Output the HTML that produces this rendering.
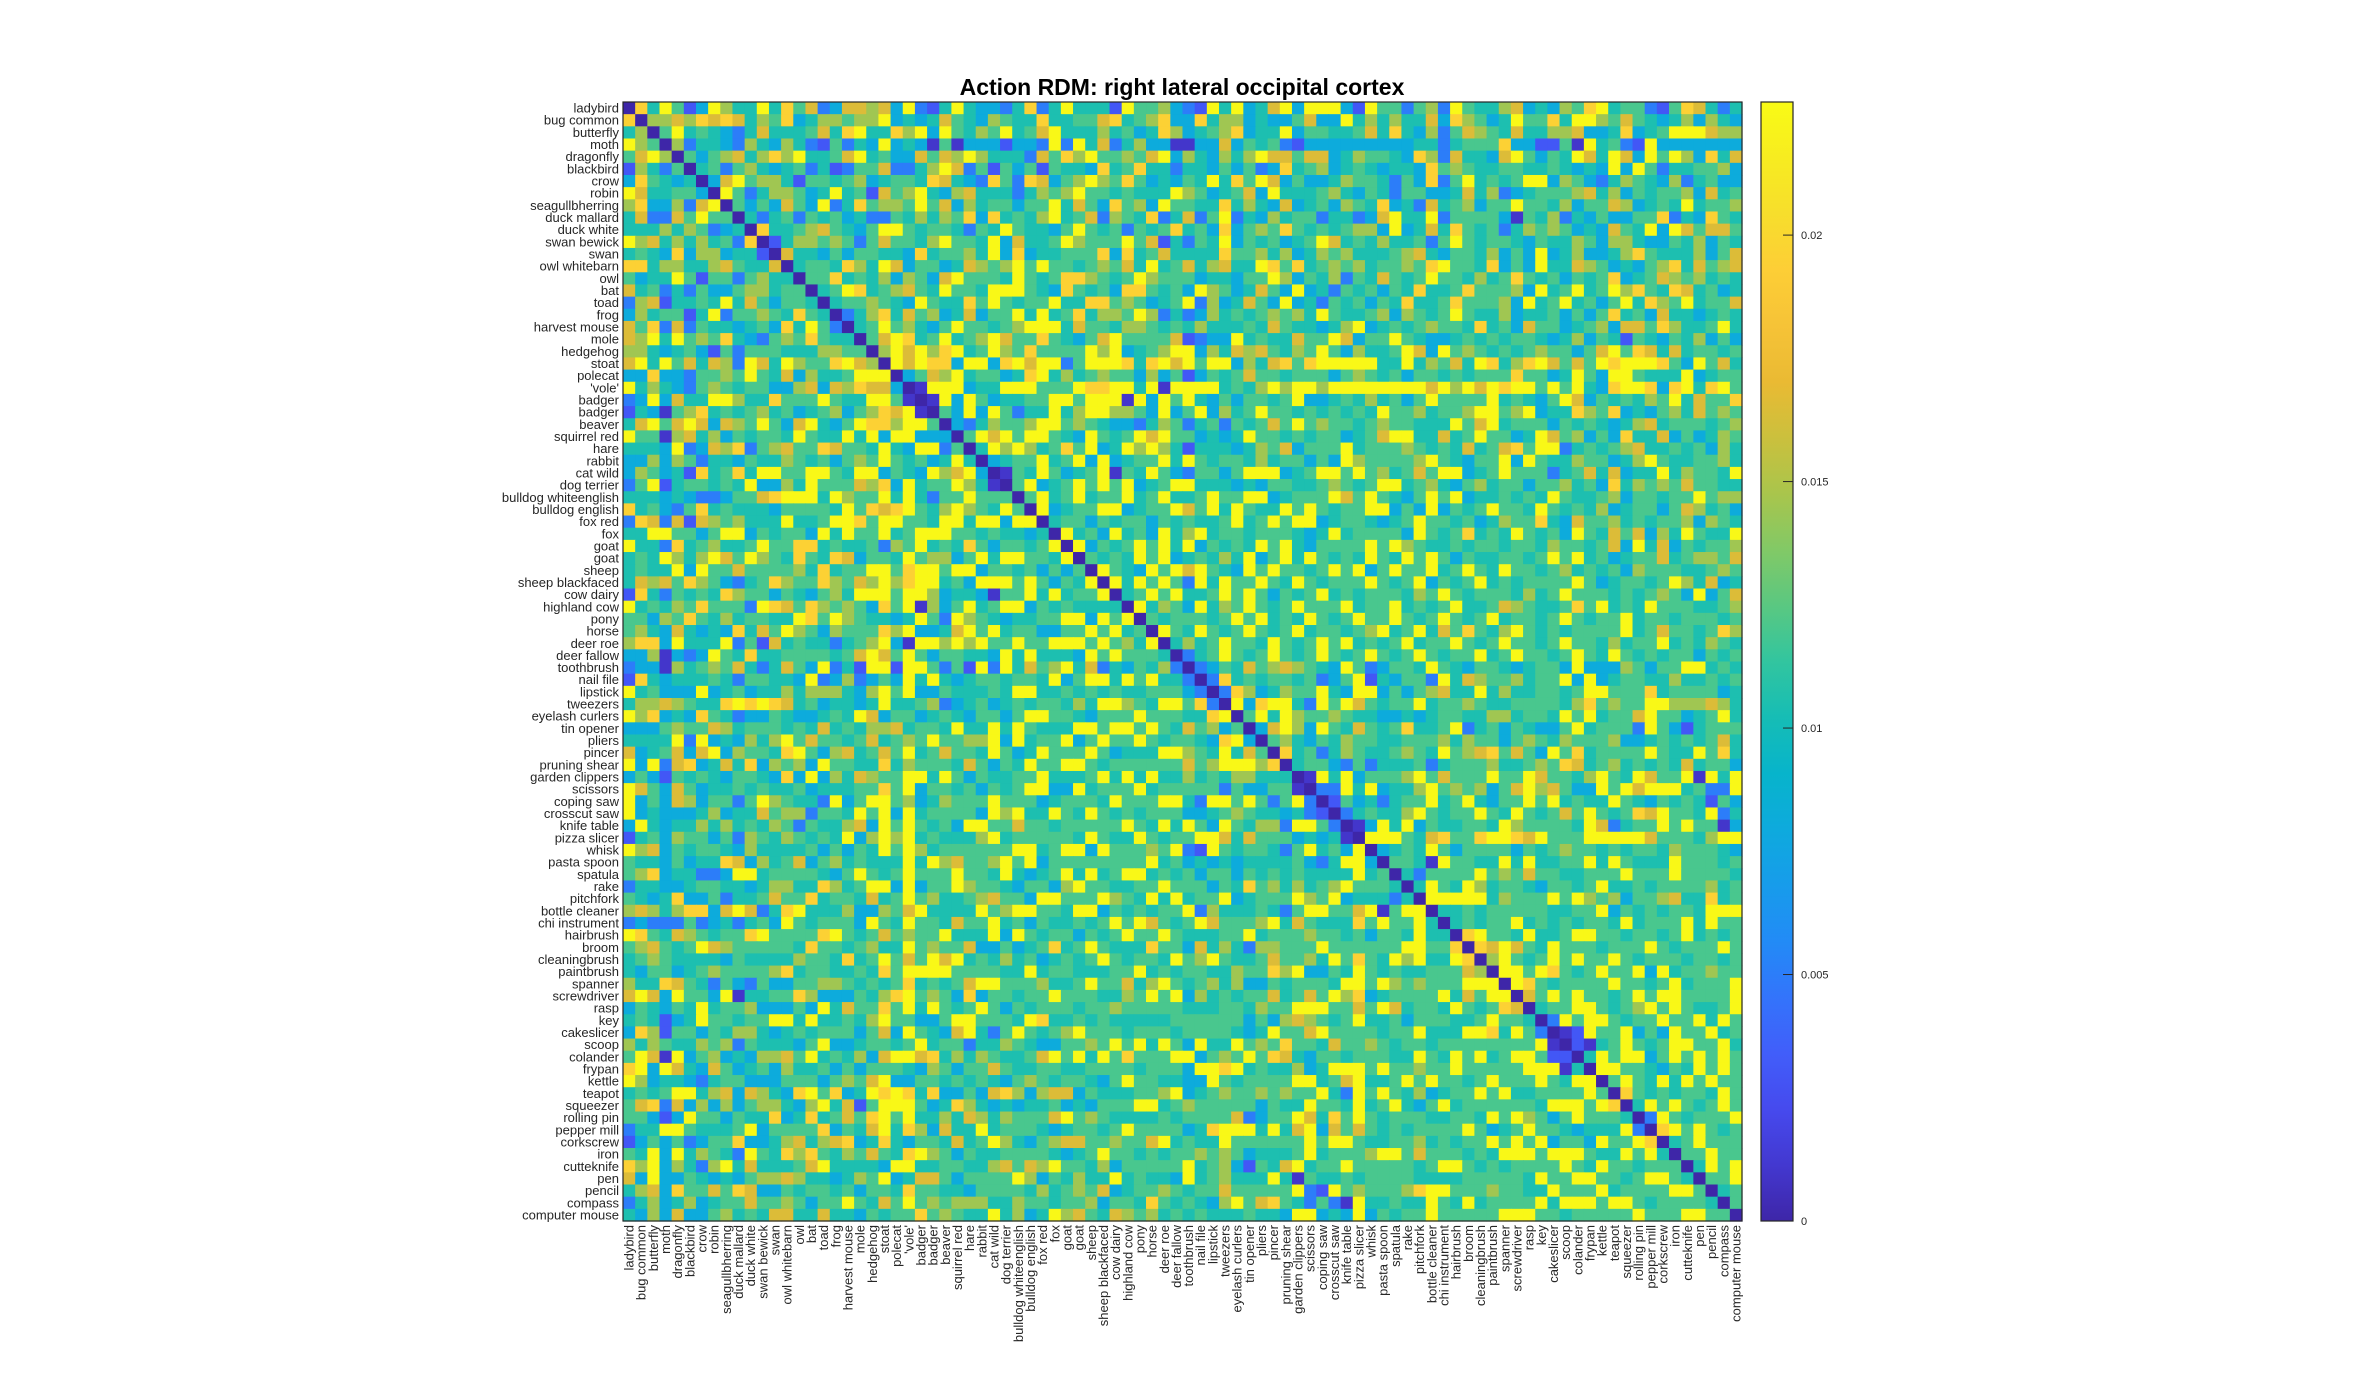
<!DOCTYPE html>
<html><head><meta charset="utf-8"><title>Action RDM</title>
<style>
html,body{margin:0;padding:0;background:#fff;}
body{width:2380px;height:1372px;overflow:hidden;font-family:"Liberation Sans",Arial,sans-serif;}
</style></head>
<body>
<svg id="chart" width="2380" height="1372" xmlns="http://www.w3.org/2000/svg">
<text x="1182" y="95" text-anchor="middle" font-family="Liberation Sans, Arial, sans-serif" font-weight="bold" font-size="23" fill="#000">Action RDM: right lateral occipital cortex</text>
<g id="cells"></g>
<g id="ylabels"></g>
<g id="xlabels"></g>
<rect x="623" y="102" width="1119" height="1119" fill="none" stroke="#262626" stroke-width="1.2"/>
<defs><linearGradient id="cbgrad" x1="0" y1="1" x2="0" y2="0"></linearGradient></defs>
<rect x="1761" y="102" width="32" height="1119" fill="url(#cbgrad)" stroke="#262626" stroke-width="1.2"/>
<g id="cbticks"></g>
</svg>
<script>
const categories = ["ladybird","bug common","butterfly","moth","dragonfly","blackbird","crow","robin","seagullbherring","duck mallard","duck white","swan bewick","swan","owl whitebarn","owl","bat","toad","frog","harvest mouse","mole","hedgehog","stoat","polecat","'vole'","badger","badger","beaver","squirrel red","hare","rabbit","cat wild","dog terrier","bulldog whiteenglish","bulldog english","fox red","fox","goat","goat","sheep","sheep blackfaced","cow dairy","highland cow","pony","horse","deer roe","deer fallow","toothbrush","nail file","lipstick","tweezers","eyelash curlers","tin opener","pliers","pincer","pruning shear","garden clippers","scissors","coping saw","crosscut saw","knife table","pizza slicer","whisk","pasta spoon","spatula","rake","pitchfork","bottle cleaner","chi instrument","hairbrush","broom","cleaningbrush","paintbrush","spanner","screwdriver","rasp","key","cakeslicer","scoop","colander","frypan","kettle","teapot","squeezer","rolling pin","pepper mill","corkscrew","iron","cutteknife","pen","pencil","compass","computer mouse"];
const levelValues = [0.001,0.003,0.005,0.008,0.0105,0.012,0.0145,0.0165,0.0195,0.0225];
const colorTicks = [0,0.005,0.01,0.015,0.02];
const colorTickLabels = ["0","0.005","0.01","0.015","0.02"];
const cmin = 0, cmax = 0.0227;
// block A: rows 0-45, columns i+1..45 (animals vs animals)
const blockA = [
"849513964494857237767392149433248249444195563",
"66768787465834665669343475436544844557845683",
"5945432474445748944869395465945794446453486",
"624432643642152439343050333133292947246330",
"53567468694457945337576964442758695565793",
"4525643452412557224697251535154438458442",
"37956641554563455487432852873569658534",
"9524665349451756943674442465695545444",
"535375392485665957364553559475385639",
"42452545342254646583845469457265482",
"8445675435995455425495443595452545",
"14665652575546955493744596555957",
"7443535544384556493834455583845",
"455486497355347656959554565749",
"55845463653795554954588654596",
"4598456754955499954385453885",
"455654395448595455944885653",
"24684756347355949458466596",
"4595643595545699947554665",
"579845945697558543579555",
"69796894596585555969345",
"9798839938979925999848",
"357694553489464565536",
"09993449995559889949",
"0939534455995999",
"5393952449469966",
"32465569956543",
"5979599543954",
"49696458593",
"3455945939",
"054953459",
"59345959",
"5945945",
"934559",
"45535",
"9453",
"935459594",
"54549593",
"9543959",
"949595",
"45959",
"9465",
"545",
"95",
"4",
""
];
// block B: rows 0-45 x columns 46-91 (animals vs objects), 46 levels per row
const blockB = [
"2194934793999319552562954467343658945521587424",
"3846634335733946464473865349558499657543463643",
"3456834493554457484362576547446673348345999766",
"0337354521333333333442455583311509452193333333",
"6436469775773465543862744379535497497395963847",
"4435352384563454344385654455445434393952445563",
"5494859735334655425382594545993653246543624533",
"6534573944456435425533474623455567463545563745",
"5448464373453654834274563559554635576345494556",
"7259243645524423794492555530546243533558243854",
"4538356585454566393474854524656534375493975775",
"2549354534597454644525954554354465366433546354",
"4448556463465644456743554635393463346854446357",
"7467449858456564556589554835394476534356847567",
"5344355963546254754595546458545354583457656454",
"3965347539342545354844585556394594596854874534",
"9263475393425453548445855563945945359486594557",
"2364545656495445636545954463445353584537443454",
"4644454754434693454565548453755345637758644594",
"1233945447559735595433454545543463541543546353",
"9364767546595364459739565454565535795874745545",
"9599364785899999449465749846897575989998539574",
"1354575545553565453554545558553495399544493455",
"9994546969969999999979697989959594389983894895",
"9435355459334546453595555945435973545465947558",
"5936459554545454955645569956934486583435647565",
"2452545759565545655444957945553545434674555456",
"5343495545455345799447459553497563538447353465",
"1444346573555945556545474578599245456744545364",
"9545546455353965555695435593954465534695445564",
"2553599934599595645759934595552457473449465549",
"9444343554456545994564356455355645384656575544",
"4595599345559759543595934454549544563554559566",
"7594954495954559935393545955495454634553576453",
"5445945959934554345955453465584375564545563654",
"6945545554349455553954584549545395475736495449",
"9354549594355559596544545545546554573947354556",
"4546493594954549549595354455459594534557456657",
"7954395955459593595594595495545645453655544565",
"2949559549545559545935459454555595345545964734",
"4459595354594545554659545554645955545456539357",
"3946595459555945594545944576544585945495554456",
"5545959454954595595459545945545954559455455545",
"4954595459455456945947585469545455559457554586",
"6459554954595945459455954595545955464559454654",
"2459545954595459545954559459554595495454553545"
];
// block C: rows 46-91, columns i+1..91 (objects vs objects)
const blockC = [
"235475676543952355495435543455393336535599454",
"28454554523591435529476556455939345544644545",
"2863465594399353567449464455459955584555534",
"938994295975455945565445555468565599666764",
"59496556544334345544664554959455795534594",
"3796395475458445924535433594555295314555",
"5643546554455564655356546555633454545745",
"845246544565495678575395845555954495",
"455325244452455564456587456454547",
"09493555695755595597554695497559",
"22949344695656357967533959799945",
"1534245594594355959454495435454",
"2454469545595495457595458795549",
"039493544554965555497245595955",
"999547855899879555999997555469",
"34549535555354565545455465554",
"5540955449494455949544495554",
"425555956575544555955595555",
"495496455435545944545555645",
"99999465559596563556744845",
"44545555544559354545549999",
"4545594545455494555949554",
"895549445995545545945455",
"87975495554555954555955",
"695459595595455545545",
"99598545955939455655",
"9854555595545945559",
"7595955459599555595",
"45599545695954459",
"2959954559559495",
"0195593539559455",
"1045954599559455",
"49599359595954",
"995543549595595",
"5954949595545",
"854545549595",
"49595459555",
"2954555954",
"895954555",
"45955545",
"5595549",
"495954",
"55954",
"4592",
"554",
"25",
"5"
];
const N = categories.length;
const SPLIT = 46;
const x0 = 623, y0 = 102, W = 1119;
const cell = W / N;
function xScale(j){ return x0 + j*cell; }
function yScale(i){ return y0 + i*cell; }
const parula = [[0.2422,0.1504,0.6603],[0.2796,0.2633,0.9195],[0.2470,0.3964,0.9970],[0.1318,0.5445,0.9664],[0.0630,0.6536,0.8900],[0.0162,0.7213,0.7710],[0.1951,0.7715,0.6227],[0.4590,0.7951,0.4309],[0.7123,0.7659,0.2667],[0.9185,0.7288,0.2013],[0.9981,0.7864,0.2229],[0.9626,0.8896,0.1578],[0.9769,0.9839,0.0805]];
function cmap(v){
  let t = Math.max(0, Math.min(1, (v-cmin)/(cmax-cmin)));
  const f = t*(parula.length-1); const k = Math.min(parula.length-2, Math.floor(f)); const r = f-k;
  const a = parula[k], b = parula[k+1];
  const c = a.map((x,idx)=>Math.round(255*(x+(b[idx]-x)*r)));
  return "rgb("+c[0]+","+c[1]+","+c[2]+")";
}
function digitAt(s, k){
  if(!s || s.length===0) return 5;
  const ch = s[k % s.length];
  return parseInt(ch,10);
}
function level(i,j){
  if(i===j) return null;
  const a = Math.min(i,j), b = Math.max(i,j);
  if(b < SPLIT) return digitAt(blockA[a], b-a-1);
  if(a < SPLIT) return digitAt(blockB[a], b-SPLIT);
  return digitAt(blockC[a-SPLIT], b-a-1);
}
const NS = "http://www.w3.org/2000/svg";
const gc = document.getElementById('cells');
for(let i=0;i<N;i++){
  for(let j=0;j<N;j++){
    const L = level(i,j);
    const v = L===null ? 0 : levelValues[L];
    const r = document.createElementNS(NS,'rect');
    
    
    r.setAttribute('x', xScale(j).toFixed(2));
    r.setAttribute('y', yScale(i).toFixed(2));
    r.setAttribute('width', (cell+0.6).toFixed(2));
    r.setAttribute('height', (cell+0.6).toFixed(2));
    r.setAttribute('fill', cmap(v));
    gc.appendChild(r);
  }
}
const gy = document.getElementById('ylabels');
const gx = document.getElementById('xlabels');
categories.forEach((c,i)=>{
  const t = document.createElementNS(NS,'text');
  
  
  t.setAttribute('x', 619);
  t.setAttribute('y', (yScale(i)+cell/2+4.5).toFixed(2));
  t.setAttribute('text-anchor','end');
  t.setAttribute('font-size','13');
  t.setAttribute('fill','#262626');
  t.textContent = c;
  gy.appendChild(t);
  const u = document.createElementNS(NS,'text');
  
  
  const cx = xScale(i)+cell/2+4.5;
  u.setAttribute('transform','translate('+cx.toFixed(2)+',1225) rotate(-90)');
  u.setAttribute('text-anchor','end');
  u.setAttribute('font-size','13');
  u.setAttribute('fill','#262626');
  u.textContent = c;
  gx.appendChild(u);
});
const grad = document.getElementById('cbgrad');
for(let k=0;k<=20;k++){
  const s = document.createElementNS(NS,'stop');
  s.setAttribute('offset', (k/20));
  s.setAttribute('stop-color', cmap(cmin+(cmax-cmin)*k/20));
  grad.appendChild(s);
}
const gt = document.getElementById('cbticks');
function cbY(v){ return 1221 - (v-cmin)/(cmax-cmin)*1119; }
colorTicks.forEach((v,k)=>{
  const y = cbY(v);
  const l = document.createElementNS(NS,'line');
  
  
  l.setAttribute('x1',1783); l.setAttribute('x2',1793);
  l.setAttribute('y1',y); l.setAttribute('y2',y);
  l.setAttribute('stroke','#262626'); l.setAttribute('stroke-width','1');
  gt.appendChild(l);
  const t = document.createElementNS(NS,'text');
  
  
  t.setAttribute('x',1801); t.setAttribute('y',y+4);
  t.setAttribute('font-size','11'); t.setAttribute('fill','#262626');
  t.textContent = colorTickLabels[k];
  gt.appendChild(t);
});
</script>
</body></html>
